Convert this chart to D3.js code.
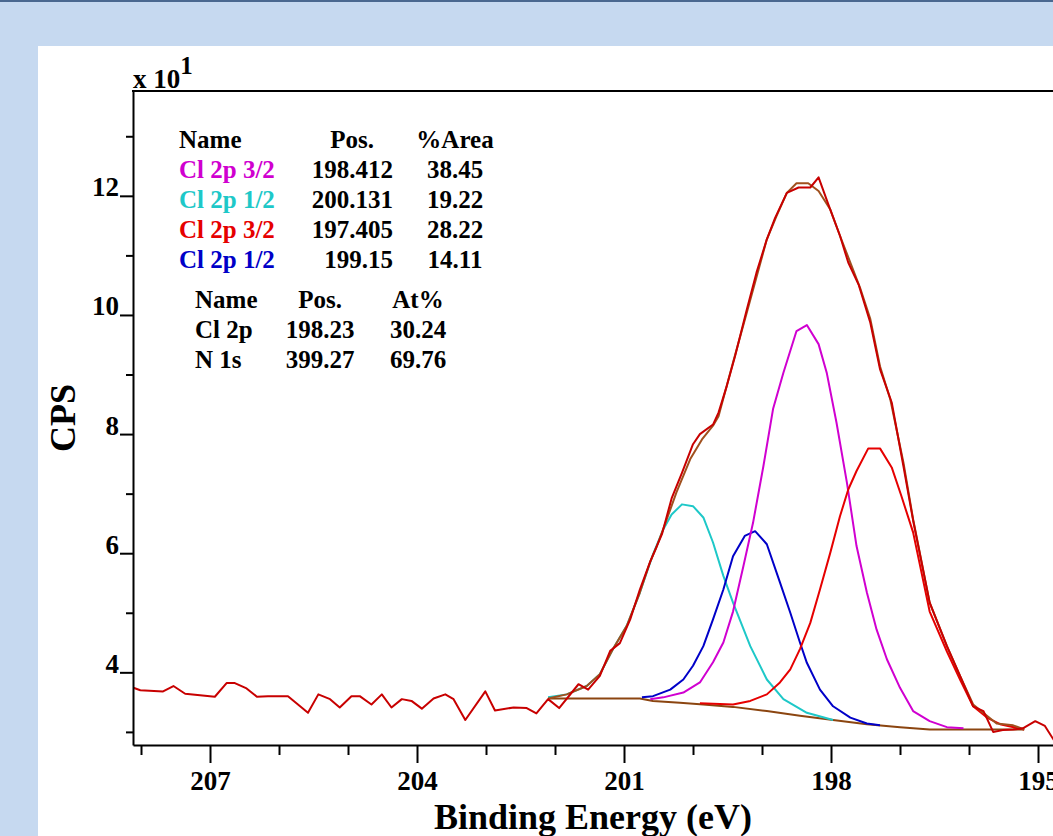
<!DOCTYPE html>
<html>
<head>
<meta charset="utf-8">
<script src="https://cdn.jsdelivr.net/npm/d3@7"></script>
<style>
  body { margin: 0; background: #c6d9f0; }
  svg { display: block; font-family: "Liberation Serif", "Times New Roman", serif; font-weight: bold; }
</style>
</head>
<body>
<svg width="1053" height="836"></svg>
<script>
// raw spectrum (binding energy, CPS x10)
var rawBE = [208.11,208.01,207.68,207.53,207.36,206.93,206.76,206.64,206.47,206.32,206.16,205.87,205.58,205.43,205.26,205.12,204.95,204.83,204.66,204.51,204.37,204.22,204.08,203.93,203.76,203.59,203.47,203.30,203.01,202.87,202.60,202.41,202.27,202.10,201.94,201.66,201.52,201.35,201.20,201.06,200.91,200.77,200.62,200.45,200.31,200.16,200.00,199.90,199.71,199.63,199.51,199.39,199.22,199.08,198.93,198.81,198.64,198.47,198.30,198.18,198.04,197.87,197.75,197.60,197.43,197.29,197.12,196.95,196.81,196.57,196.32,196.13,195.94,195.79,195.65,195.51,195.36,195.22,195.04,194.90,194.78,194.70];
var rawCPS = [3.74,3.70,3.68,3.77,3.64,3.59,3.82,3.82,3.73,3.59,3.60,3.60,3.32,3.63,3.55,3.41,3.60,3.60,3.46,3.63,3.41,3.55,3.52,3.39,3.56,3.63,3.55,3.20,3.68,3.36,3.41,3.40,3.31,3.55,3.40,3.80,3.71,3.94,4.36,4.49,4.89,5.39,5.86,6.32,6.92,7.35,7.83,8.00,8.16,8.36,8.81,9.31,10.09,10.71,11.27,11.63,12.05,12.14,12.14,12.31,11.86,11.33,10.88,10.51,9.87,9.09,8.53,7.46,6.55,5.17,4.44,3.94,3.43,3.35,3.00,3.03,3.04,3.06,3.18,3.10,2.88,2.75];

// fit envelope
var envBE = [202.10,201.83,201.54,201.35,201.16,200.96,200.77,200.62,200.53,200.38,200.24,200.04,199.87,199.71,199.63,199.42,199.22,198.93,198.79,198.64,198.50,198.33,198.18,198.01,197.87,197.72,197.58,197.43,197.29,197.14,196.95,196.81,196.57,196.32,196.13,195.94,195.74,195.60,195.36,195.20];
var envCPS = [3.56,3.63,3.77,3.97,4.39,4.78,5.34,5.86,6.10,6.57,7.02,7.58,7.91,8.14,8.30,9.20,10.04,11.27,11.66,12.05,12.21,12.21,12.08,11.77,11.33,10.88,10.46,9.93,9.14,8.58,7.52,6.57,5.17,4.44,3.94,3.46,3.27,3.14,3.11,3.04];

// shirley background
var bgBE = [202.10,200.77,200.58,200.19,199.85,199.42,198.93,198.45,197.97,197.48,197.00,196.57,195.65,195.20];
var bgCPS = [3.56,3.56,3.52,3.49,3.46,3.42,3.35,3.27,3.20,3.13,3.08,3.04,3.04,3.04];

// components
var cyanBE = [202.10,201.83,201.54,201.35,201.16,200.96,200.77,200.58,200.43,200.31,200.16,200.00,199.85,199.71,199.56,199.42,199.17,198.93,198.69,198.35,197.97];
var cyanCPS = [3.58,3.63,3.77,3.97,4.39,4.78,5.34,5.98,6.40,6.65,6.82,6.79,6.60,6.18,5.62,5.17,4.44,3.88,3.55,3.32,3.20];

var blueBE = [200.74,200.58,200.33,200.14,200.00,199.85,199.71,199.56,199.42,199.25,199.10,198.93,198.74,198.59,198.45,198.35,198.16,197.97,197.72,197.48,197.29];
var blueCPS = [3.58,3.60,3.71,3.88,4.11,4.44,4.89,5.39,5.95,6.29,6.37,6.15,5.51,5.00,4.50,4.16,3.71,3.43,3.24,3.14,3.11];

var magBE = [200.62,200.43,200.14,199.90,199.71,199.56,199.42,199.27,199.13,198.98,198.84,198.69,198.50,198.35,198.18,198.06,197.92,197.77,197.63,197.48,197.34,197.19,197.00,196.81,196.57,196.32,196.08];
var magCPS = [3.55,3.58,3.66,3.83,4.17,4.50,5.02,5.78,6.51,7.46,8.42,9.03,9.73,9.83,9.51,9.02,8.19,7.19,6.12,5.34,4.72,4.22,3.74,3.35,3.18,3.08,3.06];

var redBE = [199.90,199.42,199.17,198.93,198.74,198.59,198.45,198.30,198.16,198.01,197.87,197.75,197.63,197.46,197.29,197.12,196.98,196.81,196.57,196.32,196.13,195.94,195.74,195.55,195.20];
var redCPS = [3.48,3.46,3.52,3.63,3.83,4.05,4.39,4.83,5.39,6.01,6.62,7.07,7.38,7.76,7.76,7.44,6.96,6.35,5.02,4.35,3.88,3.43,3.24,3.13,3.04];

// legend tables
var compNames = ["Cl 2p 3/2", "Cl 2p 1/2", "Cl 2p 3/2", "Cl 2p 1/2"];
var compPos = ["198.412", "200.131", "197.405", "199.15"];
var compArea = ["38.45", "19.22", "28.22", "14.11"];
var compColors = ["#d000d0", "#1ec8c8", "#e60000", "#0000c8"];
var quantNames = ["Cl 2p", "N 1s"];
var quantPos = ["198.23", "399.27"];
var quantAt = ["30.24", "69.76"];

// ticks
var xMajor = [207, 204, 201, 198, 195];
var xMinor = [208, 206, 205, 203, 202, 200, 199, 197, 196, 194];
var yMajor = [4, 6, 8, 10, 12];
var yMinor = [3, 5, 7, 9, 11, 13];

var svg = d3.select("svg");

// page frame
svg.append("rect").attr("width", 1053).attr("height", 836).attr("fill", "#c6d9f0");
svg.append("rect").attr("width", 1053).attr("height", 2).attr("fill", "#4a6890");
svg.append("rect").attr("x", 38).attr("y", 46).attr("width", 1015).attr("height", 790).attr("fill", "#fff");

var plotLeft = 133, plotTop = 91, plotBottom = 745;
var x = d3.scaleLinear().domain([208.116, 194.5]).range([plotLeft, plotLeft + 13.616 * 69]);
var y = d3.scaleLinear().domain([2.78, 13.76]).range([plotBottom, plotTop]);
var plotRight = x.range()[1];

svg.append("clipPath").attr("id", "plot")
  .append("rect").attr("x", plotLeft).attr("y", plotTop)
  .attr("width", plotRight - plotLeft).attr("height", plotBottom - plotTop);

var line = d3.line().x(function (d) { return x(d[0]); }).y(function (d) { return y(d[1]); });
function pairs(a, b) { return a.map(function (v, i) { return [v, b[i]]; }); }

var curves = [
  { be: bgBE, cps: bgCPS, color: "#8b4510" },
  { be: cyanBE, cps: cyanCPS, color: compColors[1] },
  { be: blueBE, cps: blueCPS, color: compColors[3] },
  { be: magBE, cps: magCPS, color: compColors[0] },
  { be: redBE, cps: redCPS, color: compColors[2] },
  { be: envBE, cps: envCPS, color: "#a0501e" },
  { be: rawBE, cps: rawCPS, color: "#c80000" }
];

svg.append("g").attr("clip-path", "url(#plot)")
  .selectAll("path")
  .data(curves)
  .enter()
  .append("path")
    .attr("d", function (d) { return line(pairs(d.be, d.cps)); })
    .attr("fill", "none")
    .attr("stroke", function (d) { return d.color; })
    .attr("stroke-width", 2)
    .attr("stroke-linejoin", "round");

// frame top line
svg.append("line").attr("x1", plotLeft - 1).attr("x2", plotRight).attr("y1", plotTop).attr("y2", plotTop)
  .attr("stroke", "#000").attr("stroke-width", 2);

// x axis
var gx = svg.append("g").attr("transform", "translate(0," + plotBottom + ")");
gx.call(d3.axisBottom(x).tickValues(xMajor).tickSize(18).tickSizeOuter(0).tickPadding(8).tickFormat(d3.format("d")));
var gxm = svg.append("g").attr("transform", "translate(0," + plotBottom + ")");
gxm.call(d3.axisBottom(x).tickValues(xMinor).tickSize(10).tickSizeOuter(0).tickFormat(""));
gxm.select(".domain").remove();

// y axis
var gy = svg.append("g").attr("transform", "translate(" + plotLeft + ",0)");
gy.call(d3.axisLeft(y).tickValues(yMajor).tickSize(13).tickSizeOuter(0).tickPadding(1).tickFormat(d3.format("d")));
gy.selectAll("text").attr("dy", "0em");
var gym = svg.append("g").attr("transform", "translate(" + plotLeft + ",0)");
gym.call(d3.axisLeft(y).tickValues(yMinor).tickSize(7).tickSizeOuter(0).tickFormat(""));
gym.select(".domain").remove();

svg.selectAll(".domain, .tick line").attr("stroke", "#000").attr("stroke-width", 2);
svg.selectAll(".tick text")
  .attr("fill", "#000")
  .style("font-family", "'Liberation Serif', 'Times New Roman', serif")
  .style("font-weight", "bold")
  .style("font-size", "27px");

// axis titles
svg.append("text").attr("x", 593).attr("y", 829).attr("text-anchor", "middle")
  .style("font-size", "36px").text("Binding Energy (eV)");
svg.append("text").attr("transform", "translate(75,418) rotate(-90)").attr("text-anchor", "middle")
  .style("font-size", "36px").text("CPS");

var exp = svg.append("text").attr("x", 133).attr("y", 88).style("font-size", "27px");
exp.append("tspan").text("x 10");
exp.append("tspan").attr("dy", -14).style("font-size", "25px").text("1");

// component table
var legend = svg.append("g").style("font-size", "25px");
legend.append("text").attr("x", 179).attr("y", 148).text("Name");
legend.append("text").attr("x", 352).attr("y", 148).attr("text-anchor", "middle").text("Pos.");
legend.append("text").attr("x", 455).attr("y", 148).attr("text-anchor", "middle").text("%Area");
compNames.forEach(function (n, i) {
  var yy = 178 + i * 30;
  legend.append("text").attr("x", 179).attr("y", yy).attr("fill", compColors[i]).text(n);
  legend.append("text").attr("x", 393).attr("y", yy).attr("text-anchor", "end").text(compPos[i]);
  legend.append("text").attr("x", 455).attr("y", yy).attr("text-anchor", "middle").text(compArea[i]);
});

// quantification table
legend.append("text").attr("x", 195).attr("y", 308).text("Name");
legend.append("text").attr("x", 320).attr("y", 308).attr("text-anchor", "middle").text("Pos.");
legend.append("text").attr("x", 418).attr("y", 308).attr("text-anchor", "middle").text("At%");
quantNames.forEach(function (n, i) {
  var yy = 338 + i * 30;
  legend.append("text").attr("x", 195).attr("y", yy).text(n);
  legend.append("text").attr("x", 320).attr("y", yy).attr("text-anchor", "middle").text(quantPos[i]);
  legend.append("text").attr("x", 418).attr("y", yy).attr("text-anchor", "middle").text(quantAt[i]);
});
</script>
</body>
</html>
